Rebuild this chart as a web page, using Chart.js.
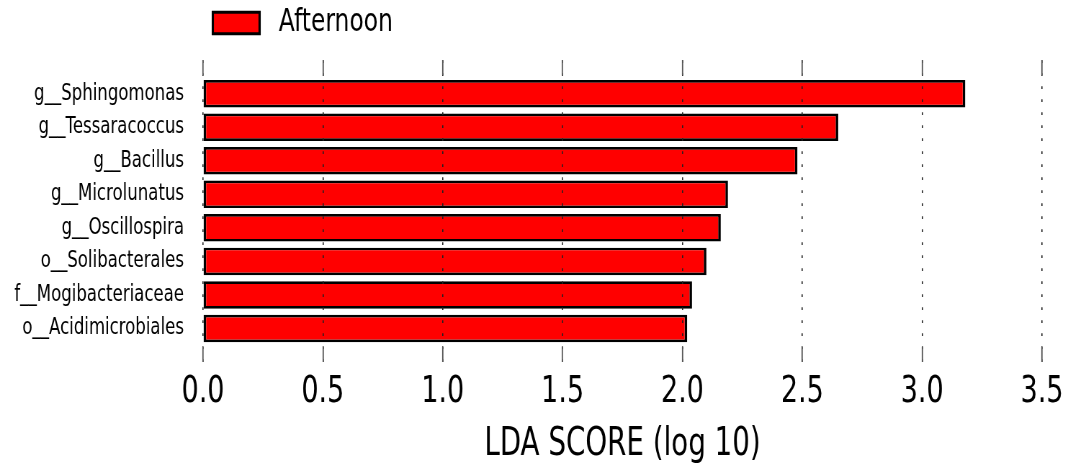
<!DOCTYPE html>
<html>
<head>
<meta charset="utf-8">
<script src="https://cdn.jsdelivr.net/npm/chart.js@4/dist/chart.umd.min.js"></script>
<style>
  html, body { margin: 0; padding: 0; background: #ffffff; overflow: hidden; }
  /* the figure is drawn wide and narrowed horizontally, giving its compressed lettering */
  #wrap { width: 1483px; height: 464px; transform: scaleX(0.720162); transform-origin: 0 0; }
  canvas { display: block; }
</style>
</head>
<body>
<div id="wrap"><canvas id="lda" width="1483" height="464"></canvas></div>
<script>
// LEfSe result: taxa enriched in the afternoon samples
const seriesName = 'Afternoon';
const categories = [
  'g__Sphingomonas',
  'g__Tessaracoccus',
  'g__Bacillus',
  'g__Microlunatus',
  'g__Oscillospira',
  'o__Solibacterales',
  'f__Mogibacteriaceae',
  'o__Acidimicrobiales'
];
const ldaScores = [3.18, 2.65, 2.48, 2.19, 2.16, 2.10, 2.04, 2.02];
const xTickValues = [0.0, 0.5, 1.0, 1.5, 2.0, 2.5, 3.0, 3.5];

const FONT = "'DejaVu Sans', sans-serif";

// one empty slot above and below keeps a full row of space at each end of the axis
const rowLabels = [''].concat(categories, ['']);
const rowValues = [null].concat(ldaScores, [null]);

const tickMarks = {
  display: true,
  drawOnChartArea: true,
  drawTicks: true,
  tickLength: -15,
  tickWidth: 1.8,
  tickColor: '#555555',
  color: '#222222',
  lineWidth: 1.6,
  z: 1
};

// fixed axis sizes; no extra side margins for the end tick labels
function fixHorizontal(height) {
  return (scale) => {
    scale.height = height;
    scale.paddingLeft = 0;
    scale.paddingRight = 0;
  };
}

new Chart(document.getElementById('lda'), {
  type: 'bar',
  data: {
    labels: rowLabels,
    datasets: [{
      label: seriesName,
      data: rowValues,
      backgroundColor: '#ff0000',
      borderColor: '#000000',
      borderWidth: { top: 2.7, bottom: 2.7, left: 3.6, right: 3.6 },
      borderSkipped: false,
      barPercentage: 0.82,
      categoryPercentage: 1.0
    }]
  },
  options: {
    indexAxis: 'y',
    responsive: false,
    animation: false,
    devicePixelRatio: 1,
    layout: { padding: { top: -6.9, left: 0, right: 36.1, bottom: 0 } },
    plugins: {
      tooltip: { enabled: false },
      legend: {
        display: true,
        position: 'top',
        align: 'start',
        fullSize: false,
        labels: {
          color: '#000000',
          font: { family: FONT, size: 32.5 },
          boxWidth: 65,
          boxHeight: 21.5,
          padding: 13.6,
          generateLabels: (chart) =>
            Chart.defaults.plugins.legend.labels.generateLabels(chart).map(item => {
              item.text = ' ' + item.text;
              return item;
            })
        }
      }
    },
    scales: {
      x: {
        type: 'linear',
        position: 'bottom',
        min: 0,
        max: 3.5,
        afterBuildTicks: (scale) => { scale.ticks = xTickValues.map(v => ({ value: v })); },
        afterFit: fixHorizontal(102),
        border: { display: false, dash: [2.7, 10.3] },
        grid: tickMarks,
        ticks: {
          color: '#000000',
          font: { family: FONT, size: 37.5 },
          padding: 23,
          maxRotation: 0,
          autoSkip: false,
          callback: (v) => Number(v).toFixed(1)
        },
        title: {
          display: true,
          text: 'LDA SCORE (log 10)',
          color: '#000000',
          font: { family: FONT, size: 38.5, lineHeight: 1.0 },
          padding: { top: 0, bottom: 0 }
        }
      },
      xTop: {
        type: 'linear',
        position: 'top',
        axis: 'x',
        min: 0,
        max: 3.5,
        afterBuildTicks: (scale) => { scale.ticks = xTickValues.map(v => ({ value: v })); },
        afterFit: fixHorizontal(11),
        border: { display: false },
        grid: Object.assign({}, tickMarks, { drawOnChartArea: false }),
        ticks: { display: false }
      },
      y: {
        type: 'category',
        offset: false,
        afterFit: (scale) => { scale.width = 281.88; },
        border: { display: false },
        grid: { display: false, drawTicks: false },
        ticks: {
          color: '#000000',
          font: { family: FONT, size: 23 },
          padding: 26.4,
          autoSkip: false
        }
      }
    }
  }
});
</script>
</body>
</html>
